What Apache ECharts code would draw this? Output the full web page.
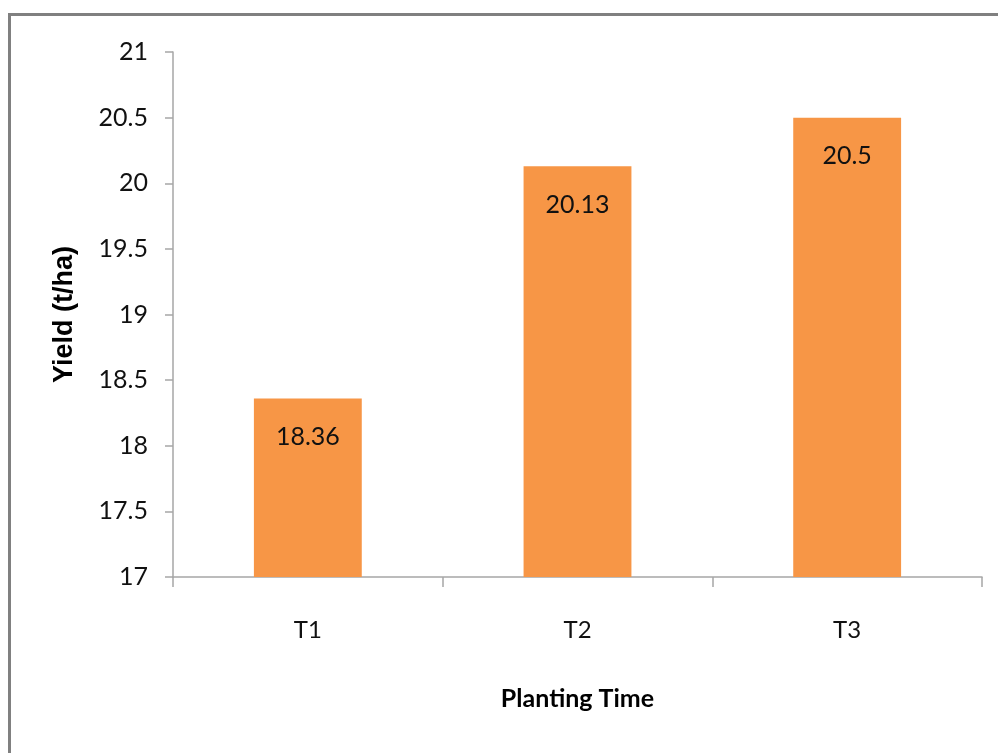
<!DOCTYPE html>
<html>
<head>
<meta charset="utf-8">
<script src="https://cdn.jsdelivr.net/npm/echarts@6/dist/echarts.min.js"></script>
<style>
  html, body { margin: 0; padding: 0; background: #ffffff; }
  #chart { width: 998px; height: 753px; }
</style>
</head>
<body>
<div id="chart"></div>
<script>
// Yield by planting time
const categories = ['T1', 'T2', 'T3'];
const yieldValues = [18.36, 20.13, 20.5];
const yTicks = { min: 17, max: 21, step: 0.5 };

const chart = echarts.init(document.getElementById('chart'), null, { renderer: 'canvas' });

const axisGray = '#a6a6a6';
const textFont = 'Lato, "Open Sans", sans-serif';

chart.setOption({
  animation: false,
  backgroundColor: '#ffffff',
  graphic: [{
    type: 'rect',
    shape: { x: 9.5, y: 14.5, width: 1010, height: 760 },
    style: { fill: 'none', stroke: '#808080', lineWidth: 3 },
    silent: true
  }],
  grid: { left: 173, right: 16, top: 52, bottom: 176 },
  xAxis: {
    type: 'category',
    data: categories,
    name: 'Planting Time',
    nameLocation: 'middle',
    nameGap: 109,
    nameTextStyle: { fontFamily: textFont, fontWeight: 'bold', fontSize: 25, color: '#000000' },
    axisLine: { lineStyle: { color: axisGray, width: 1.5 } },
    axisTick: { show: true, length: 10, alignWithLabel: false, lineStyle: { color: axisGray, width: 1.5 } },
    axisLabel: { margin: 41, fontFamily: textFont, fontSize: 24, color: '#111111' },
    splitLine: { show: false }
  },
  yAxis: {
    type: 'value',
    min: yTicks.min,
    max: yTicks.max,
    interval: yTicks.step,
    name: 'Yield (t/ha)',
    nameLocation: 'middle',
    nameGap: 95,
    nameTextStyle: { fontFamily: '"Liberation Sans", Arial, sans-serif', fontWeight: 'bold', fontSize: 27, color: '#000000' },
    axisLine: { show: true, lineStyle: { color: axisGray, width: 1.5 } },
    axisTick: { show: true, inside: false, length: 8, lineStyle: { color: axisGray, width: 1.5 } },
    axisLabel: { margin: 25, fontFamily: textFont, fontSize: 25, color: '#111111' },
    splitLine: { show: false }
  },
  series: [{
    type: 'bar',
    data: yieldValues,
    barWidth: '40%',
    itemStyle: { color: '#F79646' },
    label: {
      show: true,
      position: 'insideTop',
      distance: 26,
      fontFamily: textFont,
      fontSize: 25,
      color: '#111111',
      formatter: p => String(p.value)
    }
  }]
});
</script>
</body>
</html>
